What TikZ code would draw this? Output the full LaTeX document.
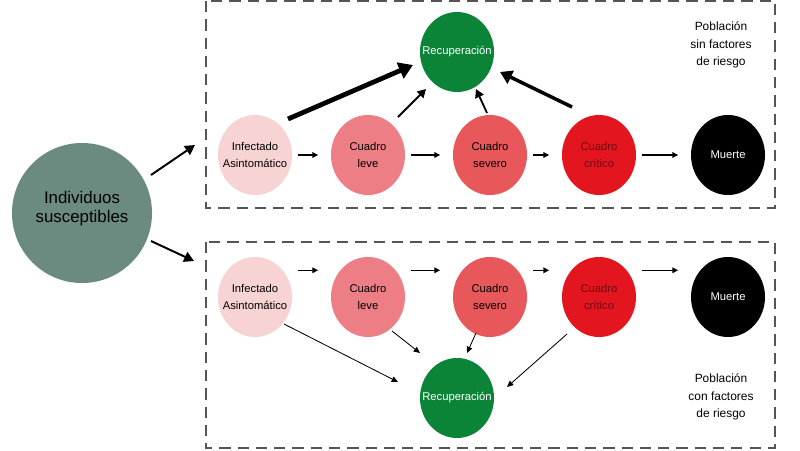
\documentclass[tikz,border=0pt]{standalone}
\usepackage{fontspec}
\setmainfont{Liberation Sans}
\usetikzlibrary{shapes.geometric,arrows.meta}

\definecolor{susc}{HTML}{6B8A80}
\definecolor{asint}{HTML}{F8D3D4}
\definecolor{leve}{HTML}{EE7E86}
\definecolor{severo}{HTML}{E8575A}
\definecolor{critico}{HTML}{E3151F}
\definecolor{txtcrit}{HTML}{700A10}
\definecolor{recup}{HTML}{0B8438}
\definecolor{borde}{HTML}{555555}

\begin{document}
\begin{tikzpicture}[x=0.025cm,y=-0.025cm,
  estado/.style={ellipse, minimum width=1.85cm, minimum height=2cm, inner xsep=-22pt, inner ysep=-8pt, align=center, font=\fontsize{8}{11.5}\selectfont},
  caja/.style={draw=borde, line width=0.9pt, dash pattern=on 8pt off 5pt},
  paso/.style={-{Triangle[length=4pt,width=4pt]}, line width=0.8pt, shorten <=4pt, shorten >=9pt},
  flecha/.style={-{Triangle[length=7pt,width=7.5pt]}, line width=1.4pt},
  media/.style={-{Triangle[length=6pt,width=6.5pt]}, line width=1.3pt},
  fina/.style={-{Triangle[length=4.5pt,width=4pt]}, line width=0.6pt}]
\useasboundingbox (0,0) rectangle (800,450);

%Cajas
\draw[caja] (206,1) rectangle (775,208);
\draw[caja] (206,242) rectangle (775,448);

%Susceptibles
\node[circle, fill=susc, minimum size=3.5cm, inner sep=0pt, align=center, font=\fontsize{12}{15}\selectfont] (ind) at (82,213) {Individuos\\[-1pt]susceptibles\\[-6.5pt]};
\coordinate (arriba) at (195,145);
\coordinate (abajo) at (194,261);
\draw[flecha] ([shift={(69,-38)}]ind.center) -- (arriba);
\draw[flecha] ([shift={(69,28)}]ind.center) -- (abajo);

%Poblacion sin factores de riesgo
\node[estado, fill=asint] (inf1) at (255,155) {Infectado\\Asintomático};
\node[estado, fill=leve] (leve1) at (368,155) {Cuadro\\leve};
\node[estado, fill=severo] (sev1) at (490,155) {Cuadro\\severo};
\node[estado, fill=critico, text=txtcrit] (crit1) at (599,155) {Cuadro\\crítico};
\node[estado, fill=black, text=white] (muer1) at (728,155) {Muerte};
\node[estado, fill=recup, text=white] (rec1) at (457,52) {Recuperación};
\node[align=center, font=\fontsize{8.5}{12.3}\selectfont] (pob1) at (721,45) {Población\\sin factores\\de riesgo};

\draw[paso] (inf1) -- (leve1);
\draw[paso] (leve1) -- (sev1);
\draw[paso] (sev1) -- (crit1);
\draw[paso] (crit1) -- (muer1);
\draw[-{Triangle[length=10pt,width=12pt]}, line width=3.4pt] ([shift={(33,-36)}]inf1.center) -- ([shift={(-44,13)}]rec1.center);
\draw[media] ([shift={(30,-38)}]leve1.center) -- ([shift={(-31,37)}]rec1.center);
\draw[media] ([shift={(-3,-42)}]sev1.center) -- ([shift={(19,37)}]rec1.center);
\draw[-{Triangle[length=8.5pt,width=10pt]}, line width=2.5pt] ([shift={(-27,-48)}]crit1.center) -- ([shift={(43,20)}]rec1.center);

%Poblacion con factores de riesgo
\node[estado, fill=asint] (inf2) at (255,297) {Infectado\\Asintomático};
\node[estado, fill=leve] (leve2) at (368,297) {Cuadro\\leve};
\node[estado, fill=severo] (sev2) at (490,297) {Cuadro\\severo};
\node[estado, fill=critico, text=txtcrit] (crit2) at (599,297) {Cuadro\\crítico};
\node[estado, fill=black, text=white] (muer2) at (728,297) {Muerte};
\node[estado, fill=recup, text=white] (rec2) at (457,398) {Recuperación};
\node[align=center, font=\fontsize{8.5}{12.3}\selectfont] (pob2) at (721,397) {Población\\con factores\\de riesgo};

\draw[paso] ([yshift=19pt]inf2.east) -- ([yshift=19pt]leve2.west);
\draw[paso] ([yshift=19pt]leve2.east) -- ([yshift=19pt]sev2.west);
\draw[paso] ([yshift=19pt]sev2.east) -- ([yshift=19pt]crit2.west);
\draw[paso] ([yshift=19pt]crit2.east) -- ([yshift=19pt]muer2.west);
\draw[fina] ([shift={(29,27)}]inf2.center) -- ([shift={(-59,-16)}]rec2.center);
\draw[fina] ([shift={(24,34)}]leve2.center) -- ([shift={(-37,-45)}]rec2.center);
\draw[fina] ([shift={(-14,36)}]sev2.center) -- ([shift={(10,-45)}]rec2.center);
\draw[fina] ([shift={(-32,37)}]crit2.center) -- ([shift={(50,-11)}]rec2.center);

\end{tikzpicture}
\end{document}
